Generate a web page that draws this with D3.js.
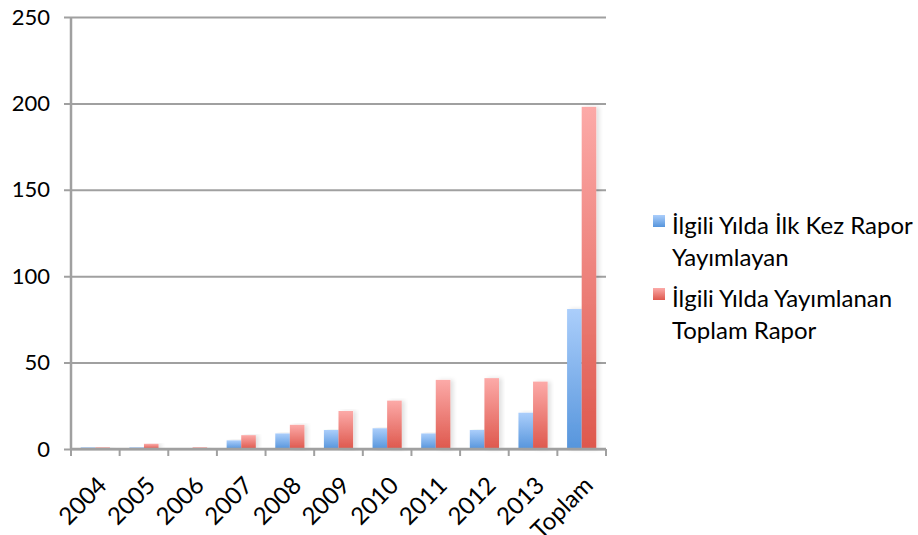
<!DOCTYPE html>
<html>
<head>
<meta charset="utf-8">
<script src="https://cdn.jsdelivr.net/npm/d3@7"></script>
<style>
  body { margin: 0; background: #fff; }
  text { font-family: Lato, "Open Sans", sans-serif; fill: #000; }
</style>
</head>
<body>
<svg id="chart" width="918" height="535"></svg>
<script>
// values
var categories = ["2004", "2005", "2006", "2007", "2008", "2009", "2010", "2011", "2012", "2013", "Toplam"];
var firstTime = [1, 1, 0, 5, 9, 11, 12, 9, 11, 21, 81];
var totalReports = [1, 3, 1, 8, 14, 22, 28, 40, 41, 39, 198];
var yTicks = [0, 50, 100, 150, 200, 250];
var seriesNames = ["İlgili Yılda İlk Kez Rapor\nYayımlayan", "İlgili Yılda Yayımlanan\nToplam Rapor"];

var svg = d3.select("#chart");
var mLeft = 71, mRight = 606, mTop = 17, mBottom = 449;

var x = d3.scaleBand().domain(categories).range([mLeft, mRight]).paddingInner(0.4).paddingOuter(0.2);
var x1 = d3.scaleBand().domain([0, 1]).range([0, x.bandwidth()]);
var y = d3.scaleLinear().domain([0, 250]).range([mBottom, mTop]);

var defs = svg.append("defs");
function grad(id, c1, c2) {
  var g = defs.append("linearGradient").attr("id", id).attr("x1", 0).attr("y1", 0).attr("x2", 0).attr("y2", 1);
  g.append("stop").attr("offset", "0%").attr("stop-color", c1);
  g.append("stop").attr("offset", "100%").attr("stop-color", c2);
}
grad("gBlue", "#abcefb", "#5695dc");
grad("gRed", "#fcaaa8", "#de584d");
var f = defs.append("filter").attr("id", "shadow").attr("x", "-20%").attr("y", "-5%").attr("width", "160%").attr("height", "110%");
f.append("feDropShadow").attr("dx", 3).attr("dy", 0).attr("stdDeviation", 2).attr("flood-color", "#000").attr("flood-opacity", 0.12);

// gridlines + y ticks
var yAxis = d3.axisLeft(y).tickValues(yTicks).tickSize(-(mRight - mLeft)).tickPadding(21);
var gy = svg.append("g").attr("transform", "translate(" + mLeft + ",0)").call(yAxis);
gy.select(".domain").remove();
gy.selectAll(".tick line").attr("x1", -7).attr("stroke", "#a0a0a0").attr("stroke-width", 2);
gy.selectAll(".tick text").attr("font-size", 22).attr("font-family", "Lato, sans-serif").attr("fill", "#000");

// bars
var groups = svg.append("g").selectAll("g").data(categories).join("g")
  .attr("transform", function(d) { return "translate(" + x(d) + ",0)"; });
groups.append("rect")
  .attr("x", x1(0)).attr("width", x1.bandwidth())
  .attr("y", function(d, i) { return y(firstTime[i]); })
  .attr("height", function(d, i) { return y(0) - y(firstTime[i]); })
  .attr("fill", "url(#gBlue)").attr("filter", "url(#shadow)");
groups.append("rect")
  .attr("x", x1(1)).attr("width", x1.bandwidth())
  .attr("y", function(d, i) { return y(totalReports[i]); })
  .attr("height", function(d, i) { return y(0) - y(totalReports[i]); })
  .attr("fill", "url(#gRed)").attr("filter", "url(#shadow)");

// vertical axis line
svg.append("line").attr("x1", mLeft).attr("x2", mLeft).attr("y1", mTop).attr("y2", mBottom)
  .attr("stroke", "#a0a0a0").attr("stroke-width", 2.5);

// x axis
var step = x.step();
var bounds = categories.map(function(d) { return x(d) - x.paddingInner() * step / 2; });
bounds.push(mRight);
svg.append("line").attr("x1", mLeft).attr("x2", mRight).attr("y1", mBottom).attr("y2", mBottom)
  .attr("stroke", "#a0a0a0").attr("stroke-width", 2.5);
svg.append("g").selectAll("line").data(bounds).join("line")
  .attr("x1", function(d) { return d; }).attr("x2", function(d) { return d; })
  .attr("y1", mBottom).attr("y2", mBottom + 7)
  .attr("stroke", "#a0a0a0").attr("stroke-width", 2);
svg.append("g").selectAll("text").data(categories).join("text")
  .attr("transform", function(d) { return "translate(" + (x(d) + x.bandwidth() / 2 + 1) + "," + (mBottom + 26) + ") rotate(-45)"; })
  .attr("text-anchor", "end").attr("dy", "0.7em")
  .attr("font-size", 24)
  .text(function(d) { return d; });

// legend
var legend = svg.append("g");
var legY = [215, 288];
["url(#gBlue)", "url(#gRed)"].forEach(function(fill, i) {
  legend.append("rect").attr("x", 653).attr("y", legY[i]).attr("width", 12).attr("height", 12).attr("fill", fill);
  var t = legend.append("text").attr("x", 672).attr("y", legY[i] + 19).attr("font-size", 24);
  seriesNames[i].split("\n").forEach(function(line, j) {
    t.append("tspan").attr("x", 672).attr("dy", j === 0 ? 0 : 32).text(line);
  });
});
</script>
</body>
</html>
